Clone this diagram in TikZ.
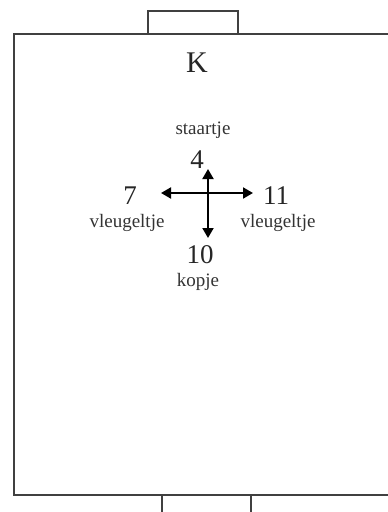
\documentclass[tikz,border=0pt]{standalone}
\usepackage{fontspec}
\setmainfont{Liberation Serif}
\usetikzlibrary{arrows.meta}
\begin{document}
\begin{tikzpicture}[x=1pt,y=-1pt,
  wall/.style={draw=black!75,line width=2.8pt},
  tab/.style={draw=black!75,line width=2.2pt},
  arr/.style={draw=black,line width=2pt,{Triangle[length=10pt,width=11pt]}-{Triangle[length=10pt,width=11pt]}},
  big/.style={font=\fontsize{30}{30}\selectfont,text=black!85,inner sep=0pt},
  num/.style={font=\fontsize{27}{27}\selectfont,text=black!85,inner sep=0pt},
  lab/.style={font=\fontsize{19}{19}\selectfont,text=black!80,inner sep=0pt}]
\useasboundingbox (0,0) rectangle (388,512);
% room outline
\draw[wall] (388,34) -- (14,34) -- (14,495) -- (388,495);
% top tab
\draw[tab] (148,34) -- (148,11) -- (238,11) -- (238,34);
% bottom tab
\draw[tab] (162,495) -- (162,514);
\draw[tab] (251,495) -- (251,514);
% texts
\node[big] (K) at (197,63) {K};
\node[lab] (st) at (203,130) {staartje};
\node[num] (n4) at (197,160) {4};
\node[num] (n7) at (130,196) {7};
\node[lab] (vl) at (127,223) {vleugeltje};
\node[num] (n11) at (276,196) {11};
\node[lab] (vr) at (278,223) {vleugeltje};
\node[num] (n10) at (200,255) {10};
\node[lab] (kp) at (198,282) {kopje};
% arrows
\coordinate (L) at (161,193);
\coordinate (R) at (253,193);
\coordinate (T) at (208,169);
\coordinate (B) at (208,238);
\draw[arr] (L) -- (R);
\draw[arr] (T) -- (B);
\end{tikzpicture}
\end{document}
